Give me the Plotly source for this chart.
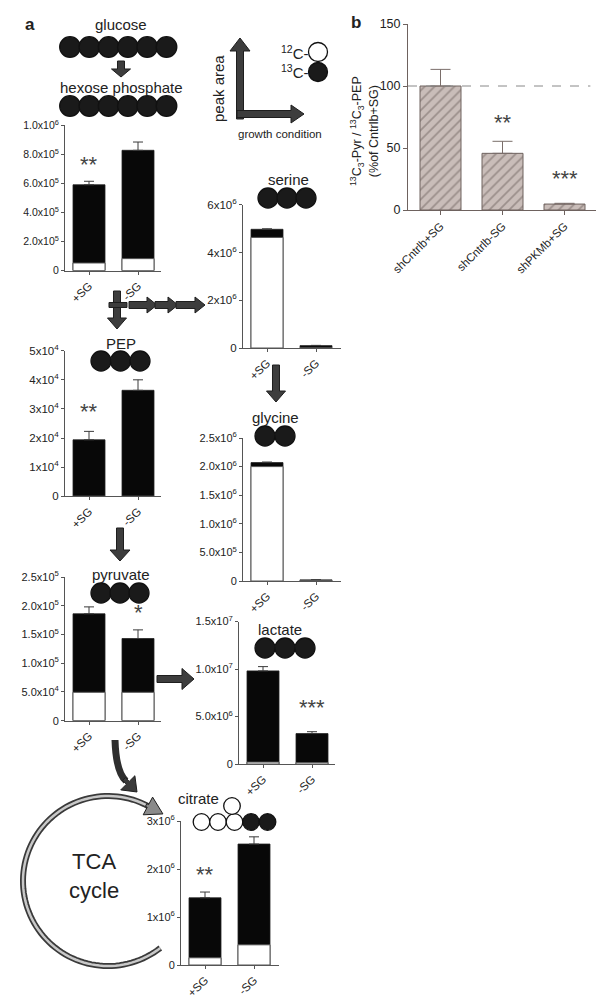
import math
import plotly.graph_objects as go

W, H = 605, 998
FUENTE = "Liberation Sans, Arial, sans-serif"
GRIS = "#555555"

# ===============================
# DATOS
# ===============================
CONDICIONES = ["+SG", "-SG"]

# hexosa fosfato
HEX_12C = [5.3e4, 8.3e4]
HEX_TOTAL = [5.91e5, 8.28e5]
HEX_ERR = [2.4e4, 5.7e4]
HEX_SIG = ["**", ""]
HEX_SIG_Y = [7.0e5, 0]
HEX_TICKS = [0, 2e5, 4e5, 6e5, 8e5, 1e6]
HEX_TICKTEXT = ["0", "2.0x10<sup>5</sup>", "4.0x10<sup>5</sup>", "6.0x10<sup>5</sup>",
                "8.0x10<sup>5</sup>", "1.0x10<sup>6</sup>"]

# serina
SER_12C = [4.63e6, 0]
SER_TOTAL = [4.97e6, 0.1e6]
SER_ERR = [0.02e6, 0.01e6]
SER_TICKS = [0, 2e6, 4e6, 6e6]
SER_TICKTEXT = ["0", "2x10<sup>6</sup>", "4x10<sup>6</sup>", "6x10<sup>6</sup>"]

# PEP
PEP_12C = [0, 0]
PEP_TOTAL = [1.94e4, 3.64e4]
PEP_ERR = [0.29e4, 0.36e4]
PEP_SIG = ["**", ""]
PEP_SIG_Y = [2.76e4, 0]
PEP_TICKS = [0, 1e4, 2e4, 3e4, 4e4, 5e4]
PEP_TICKTEXT = ["0", "1x10<sup>4</sup>", "2x10<sup>4</sup>", "3x10<sup>4</sup>",
                "4x10<sup>4</sup>", "5x10<sup>4</sup>"]

# glicina
GLY_12C = [2.0e6, 0.005e6]
GLY_TOTAL = [2.07e6, 0.02e6]
GLY_ERR = [0.01e6, 0.0]
GLY_TICKS = [0, 5e5, 1e6, 1.5e6, 2e6, 2.5e6]
GLY_TICKTEXT = ["0", "5.0x10<sup>5</sup>", "1.0x10<sup>6</sup>", "1.5x10<sup>6</sup>",
                "2.0x10<sup>6</sup>", "2.5x10<sup>6</sup>"]

# piruvato
PYR_12C = [4.94e4, 4.94e4]
PYR_TOTAL = [1.86e5, 1.43e5]
PYR_ERR = [1.2e4, 1.5e4]
PYR_SIG = ["", "*"]
PYR_SIG_Y = [0, 1.82e5]
PYR_TICKS = [0, 5e4, 1e5, 1.5e5, 2e5, 2.5e5]
PYR_TICKTEXT = ["0", "5.0x10<sup>4</sup>", "1.0x10<sup>5</sup>", "1.5x10<sup>5</sup>",
                "2.0x10<sup>5</sup>", "2.5x10<sup>5</sup>"]

# lactato
LAC_12C = [2.0e5, 1.5e5]
LAC_TOTAL = [9.8e6, 3.2e6]
LAC_ERR = [0.45e6, 0.2e6]
LAC_SIG = ["", "***"]
LAC_SIG_Y = [0, 5.5e6]
LAC_TICKS = [0, 5e6, 1e7, 1.5e7]
LAC_TICKTEXT = ["0", "5.0x10<sup>6</sup>", "1.0x10<sup>7</sup>", "1.5x10<sup>7</sup>"]

# citrato
CIT_12C = [0.15e6, 0.42e6]
CIT_TOTAL = [1.4e6, 2.52e6]
CIT_ERR = [0.12e6, 0.15e6]
CIT_SIG = ["**", ""]
CIT_SIG_Y = [1.8e6, 0]
CIT_TICKS = [0, 1e6, 2e6, 3e6]
CIT_TICKTEXT = ["0", "1x10<sup>6</sup>", "2x10<sup>6</sup>", "3x10<sup>6</sup>"]

# panel b
GRUPOS_B = ["shCntrlb+SG", "shCntrlb-SG", "shPKMb+SG"]
VALORES_B = [100, 45.7, 4.8]
ERR_B = [13.4, 9.7, 0.6]
SIG_B = ["", "**", "***"]
SIG_B_Y = [0, 67, 22]
TICKS_B = [0, 50, 100, 150]


# ===============================
# AUXILIARES
# ===============================
def px(x):
    return x / W


def py(y):
    return 1 - y / H


def ejes(n):
    s = "" if n == 1 else str(n)
    return "x" + s, "y" + s, "xaxis" + s, "yaxis" + s


def ruta(puntos, cerrar=True):
    txt = "M " + " L ".join(f"{px(a):.5f},{py(b):.5f}" for a, b in puntos)
    return txt + (" Z" if cerrar else "")


def circulo(cx, cy, r, relleno):
    return dict(type="circle", xref="paper", yref="paper",
                x0=px(cx - r), x1=px(cx + r), y0=py(cy + r), y1=py(cy - r),
                fillcolor=relleno, line=dict(color="#111", width=1.3))


def flecha(x0, y0, x1, y1, ancho=7, cabeza=19, largo=11, color="#3d3d3d"):
    dx, dy = x1 - x0, y1 - y0
    L = math.hypot(dx, dy)
    ux, uy = dx / L, dy / L
    nx, ny = -uy, ux
    bx, by = x1 - ux * largo, y1 - uy * largo
    pts = [(x0 + nx * ancho / 2, y0 + ny * ancho / 2),
           (bx + nx * ancho / 2, by + ny * ancho / 2),
           (bx + nx * cabeza / 2, by + ny * cabeza / 2),
           (x1, y1),
           (bx - nx * cabeza / 2, by - ny * cabeza / 2),
           (bx - nx * ancho / 2, by - ny * ancho / 2),
           (x0 - nx * ancho / 2, y0 - ny * ancho / 2)]
    return dict(type="path", xref="paper", yref="paper", path=ruta(pts),
                fillcolor=color, line=dict(color="#1e1e1e", width=1))


def texto(x, y, t, size=15, **kw):
    return dict(x=px(x), y=py(y), xref="paper", yref="paper", text=t, showarrow=False,
                xanchor="center", yanchor="middle",
                font=dict(size=size, family=FUENTE, color="#222"), **kw)


def estrellas(x, y, xr, yr, s):
    # el asterisco queda alto en su caja de texto
    return dict(x=x, y=y, xref=xr, yref=yr, text=s, showarrow=False, yshift=4,
                font=dict(size=22, family=FUENTE, color="#444"))


fig = go.Figure()
shapes = []
anots = []


# ===============================
# PANELES DE BARRAS (a)
# ===============================
def panel_a(n, c12, total, err, ticks, ticktext, caja, sig=None, sig_y=None, tam=11):
    xr, yr, xk, yk = ejes(n)
    x0, x1, y0, y1 = caja
    paso = 49.0
    ancho = 32 / paso

    fig.add_trace(go.Bar(
        x=CONDICIONES, y=total, xaxis=xr, yaxis=yr, width=ancho,
        marker=dict(color="#080808", line=dict(color="#222", width=0.8)),
        error_y=dict(type="data", symmetric=False, array=err, arrayminus=[0] * len(err),
                     color="#3a3a3a", thickness=1, width=5)
    ))
    fig.add_trace(go.Bar(
        x=CONDICIONES, y=c12, xaxis=xr, yaxis=yr, width=ancho,
        marker=dict(color="white", line=dict(color="#555", width=1))
    ))

    fig.update_layout(**{
        xk: dict(domain=[px(x0), px(x1)], range=[-24 / paso, (x1 - x0 - 24) / paso],
                 type="category", anchor=yr, showline=True, linecolor=GRIS, linewidth=1,
                 ticks="outside", ticklen=3, tickcolor=GRIS, tickangle=-45,
                 tickfont=dict(size=11.5, family=FUENTE, color="#222"),
                 showgrid=False, zeroline=False, automargin=False),
        yk: dict(domain=[py(y0), py(y1)], range=[0, ticks[-1]], anchor=xr,
                 showline=True, linecolor=GRIS, linewidth=1, ticks="outside", ticklen=3,
                 tickcolor=GRIS, tickvals=ticks, ticktext=ticktext,
                 tickfont=dict(size=tam, family=FUENTE, color="#222"),
                 showgrid=False, zeroline=False, automargin=False),
    })

    if sig:
        for c, s, v in zip(CONDICIONES, sig, sig_y):
            if s:
                anots.append(estrellas(c, v, xr, yr, s))


panel_a(1, HEX_12C, HEX_TOTAL, HEX_ERR, HEX_TICKS, HEX_TICKTEXT, (57, 153, 262.7, 117.3),
        HEX_SIG, HEX_SIG_Y, tam=10.5)
panel_a(2, SER_12C, SER_TOTAL, SER_ERR, SER_TICKS, SER_TICKTEXT, (235, 333, 340, 196.7),
        tam=11.5)
panel_a(3, PEP_12C, PEP_TOTAL, PEP_ERR, PEP_TICKS, PEP_TICKTEXT, (57, 153, 488.3, 342.7),
        PEP_SIG, PEP_SIG_Y, tam=11.5)
panel_a(4, GLY_12C, GLY_TOTAL, GLY_ERR, GLY_TICKS, GLY_TICKTEXT, (235, 333, 573, 430))
panel_a(5, PYR_12C, PYR_TOTAL, PYR_ERR, PYR_TICKS, PYR_TICKTEXT, (57, 153, 712.7, 569),
        PYR_SIG, PYR_SIG_Y)
panel_a(6, LAC_12C, LAC_TOTAL, LAC_ERR, LAC_TICKS, LAC_TICKTEXT, (231, 327, 756, 613.5),
        LAC_SIG, LAC_SIG_Y)
panel_a(7, CIT_12C, CIT_TOTAL, CIT_ERR, CIT_TICKS, CIT_TICKTEXT, (173, 271, 957, 813),
        CIT_SIG, CIT_SIG_Y, tam=11)


# ===============================
# PANEL b
# ===============================
fig.add_trace(go.Bar(
    x=GRUPOS_B, y=VALORES_B, xaxis="x8", yaxis="y8", width=41 / 62,
    marker=dict(color="#c4b8b4", line=dict(color="#6e625e", width=1),
                pattern=dict(shape="/", size=7, solidity=0.25, fgcolor="#6e625e",
                             bgcolor="#c9bdb9")),
    error_y=dict(type="data", symmetric=False, array=ERR_B, arrayminus=[0] * 3,
                 color="#7a6e6a", thickness=1, width=10)
))
fig.update_layout(
    xaxis8=dict(domain=[px(400), px(588)], range=[-32.5 / 62, (188 - 32.5) / 62],
                type="category", anchor="y8", showline=True, linecolor="#6e625e",
                ticks="outside", ticklen=4, tickcolor="#6e625e", tickangle=-45,
                tickfont=dict(size=11.5, family=FUENTE, color="#222"),
                showgrid=False, zeroline=False, automargin=False),
    yaxis8=dict(domain=[py(202), py(16)], range=[0, 150], anchor="x8", showline=True,
                linecolor="#6e625e", ticks="outside", ticklen=4, tickcolor="#6e625e",
                tickvals=TICKS_B, tickfont=dict(size=12.5, family=FUENTE, color="#222"),
                showgrid=False, zeroline=False, automargin=False),
)
shapes.append(dict(type="line", xref="x8 domain", yref="y8", x0=0, x1=0.97, y0=100, y1=100,
                   line=dict(color="#888", width=1, dash="dash")))
for c, s, v in zip(GRUPOS_B, SIG_B, SIG_B_Y):
    if s:
        anots.append(estrellas(c, v, "x8", "y8", s))
anots.append(texto(357, 123, "<sup>13</sup>C<sub>3</sub>-Pyr / <sup>13</sup>C<sub>3</sub>-PEP"
                   "<br>(%of Cntrlb+SG)", size=12.5, textangle=-90))


# ===============================
# ESQUEMA: MOLECULAS, FLECHAS, TEXTOS
# ===============================
NEGRO = "#1a1a1a"
for i in range(6):
    shapes.append(circulo(62 + 19.3 * i, 39, 10.3, NEGRO))
    shapes.append(circulo(62 + 19.3 * i, 98, 10.3, NEGRO))
for cx in (260, 279, 298):
    shapes.append(circulo(cx, 190, 10, NEGRO))
for cx in (93, 112.5, 132):
    shapes.append(circulo(cx, 353, 10, NEGRO))
for cx in (257, 277):
    shapes.append(circulo(cx, 428, 10, NEGRO))
for cx in (93, 112, 131):
    shapes.append(circulo(cx, 585, 10, NEGRO))
for cx in (257, 277, 297):
    shapes.append(circulo(cx, 640, 10, NEGRO))
for i, cx in enumerate((193.5, 210, 226.5, 243, 259.5)):
    shapes.append(circulo(cx, 814, 8.3, "white" if i < 3 else NEGRO))
shapes.append(circulo(224, 798, 8.3, "white"))
shapes.append(circulo(310, 44, 9.5, "white"))
shapes.append(circulo(310, 64, 9.5, NEGRO))

# flechas rectas
shapes.append(flecha(113, 53, 113, 69, ancho=7, cabeza=19, largo=8))
shapes.append(flecha(109, 283, 109, 321, cabeza=19, largo=11))
shapes.append(dict(type="path", xref="paper", yref="paper",
                   path=ruta([(101, 294.5), (119, 294.5), (119, 299.5), (101, 299.5)]),
                   fillcolor="#3d3d3d", line=dict(color="#1e1e1e", width=1)))
shapes.append(flecha(121, 297, 149, 297, ancho=7, cabeza=16, largo=10))
shapes.append(flecha(147, 297, 170, 297, ancho=7, cabeza=16, largo=10))
shapes.append(flecha(168, 297, 197, 297, ancho=7, cabeza=16, largo=10))
shapes.append(flecha(112, 520, 112, 553, cabeza=20, largo=11))
shapes.append(flecha(268, 357, 268, 394, cabeza=19, largo=11))
shapes.append(flecha(149, 671, 186, 671, ancho=7, cabeza=21, largo=12))

# leyenda de ejes
shapes.append(flecha(232, 111, 232, 30, ancho=7, cabeza=20, largo=13))
shapes.append(flecha(229, 106, 296, 106, ancho=7, cabeza=18, largo=13))

# flecha curva piruvato -> TCA
shapes.append(dict(type="path", xref="paper", yref="paper",
                   path=f"M {px(107):.5f},{py(732):.5f} Q {px(108):.5f},{py(764):.5f} "
                        f"{px(118):.5f},{py(773):.5f}",
                   line=dict(color="#2e2e2e", width=7)))
shapes.append(flecha(116, 771, 129, 784, ancho=4, cabeza=20, largo=13, color="#3a3a3a"))

# ciclo TCA
cx, cy, r = 100, 873, 85
angs = [62 + (308 - 62) * k / 90 for k in range(91)]
arco = [(cx + r * math.cos(math.radians(a)), cy - r * math.sin(math.radians(a))) for a in angs]
shapes.append(dict(type="path", xref="paper", yref="paper", path=ruta(arco, cerrar=False),
                   line=dict(color="#3a3a3a", width=6)))
shapes.append(dict(type="path", xref="paper", yref="paper", path=ruta(arco, cerrar=False),
                   line=dict(color="#c8c8c8", width=2.5)))
a0 = math.radians(62)
bx, by = arco[0]
dx, dy = math.sin(a0), math.cos(a0)
shapes.append(flecha(bx - dx * 2, by - dy * 2, bx + dx * 17, by + dy * 17, ancho=3,
                     cabeza=20, largo=17, color="#8a8a8a"))

# textos
anots += [
    texto(22, 17, "<b>a</b>", size=17),
    texto(348, 15, "<b>b</b>", size=17),
    texto(113, 17, "glucose"),
    texto(113, 80, "hexose phosphate"),
    texto(280, 172, "serine"),
    texto(113, 335, "PEP"),
    texto(267, 409, "glycine"),
    texto(113, 566, "pyruvate"),
    texto(272, 621, "lactate"),
    texto(190, 790, "citrate"),
    texto(210, 81, "peak area", size=15, textangle=-90),
    texto(272, 126, "growth condition", size=11.5),
    texto(287, 44, "<sup>12</sup>C-", size=15),
    texto(287, 64, "<sup>13</sup>C-", size=15),
    texto(86, 868, "TCA<br>cycle", size=22),
]

shapes.append(dict(type="line", xref="paper", yref="paper", x0=px(202), x1=1,
                   y0=py(996), y1=py(996), line=dict(color="#888", width=1.5)))

fig.update_layout(
    width=W, height=H, autosize=False,
    margin=dict(l=0, r=0, t=0, b=0),
    barmode="overlay", showlegend=False,
    paper_bgcolor="white", plot_bgcolor="rgba(0,0,0,0)",
    font=dict(family=FUENTE, color="#222"),
    shapes=shapes, annotations=anots,
)

fig.write_html("out.html")
